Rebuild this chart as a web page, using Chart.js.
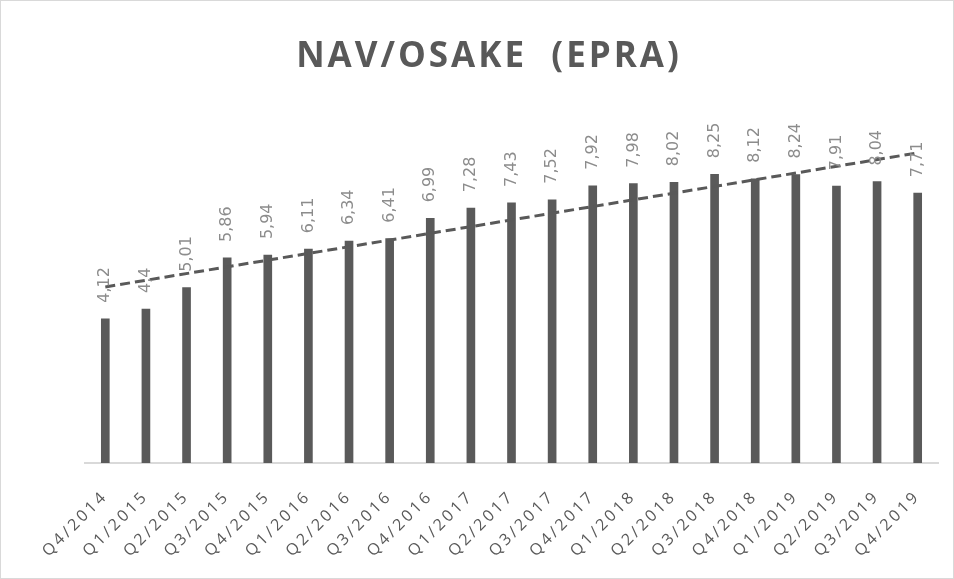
<!DOCTYPE html>
<html>
<head>
<meta charset="utf-8">
<script src="https://cdn.jsdelivr.net/npm/chart.js@4.4.1/dist/chart.umd.min.js"></script>
<style>
  html, body { margin: 0; padding: 0; background: #fff; }
  #wrap { width: 954px; height: 579px; }
</style>
</head>
<body>
<div id="wrap"><canvas id="navChart" width="954" height="579"></canvas></div>
<script>
const quarters = ['Q4/2014', 'Q1/2015', 'Q2/2015', 'Q3/2015', 'Q4/2015', 'Q1/2016', 'Q2/2016',
    'Q3/2016', 'Q4/2016', 'Q1/2017', 'Q2/2017', 'Q3/2017', 'Q4/2017', 'Q1/2018', 'Q2/2018',
    'Q3/2018', 'Q4/2018', 'Q1/2019', 'Q2/2019', 'Q3/2019', 'Q4/2019'];
const navPerShare = [4.12, 4.4, 5.01, 5.86, 5.94, 6.11, 6.34, 6.41, 6.99, 7.28, 7.43, 7.52,
    7.92, 7.98, 8.02, 8.25, 8.12, 8.24, 7.91, 8.04, 7.71];
const valueLabels = ['4,12', '4,4', '5,01', '5,86', '5,94', '6,11', '6,34', '6,41', '6,99', '7,28',
    '7,43', '7,52', '7,92', '7,98', '8,02', '8,25', '8,12', '8,24', '7,91', '8,04', '7,71'];
// trendline end values
const trendEnds = [5.03, 8.86];

const trendData = quarters.map((q, i) => {
    if (i === 0) return trendEnds[0];
    if (i === quarters.length - 1) return trendEnds[1];
    return null;
});

const textGrey = '#595959';

// the axis labels in the picture are spaced out; resizing the canvas resets
// the context, so set it again before layout and before drawing
const spacing = {
    id: 'spacing',
    beforeLayout(chart) {
        chart.ctx.letterSpacing = '3px';
    },
    beforeDraw(chart) {
        chart.ctx.letterSpacing = '3px';
    }
};

const barLabels = {
    id: 'barLabels',
    afterDatasetsDraw(chart) {
        const ctx = chart.ctx;
        const meta = chart.getDatasetMeta(0);
        ctx.save();
        ctx.letterSpacing = '0px';
        ctx.font = '16px "DejaVu Sans"';
        ctx.fillStyle = '#8c8c8c';
        ctx.textAlign = 'left';
        ctx.textBaseline = 'middle';
        meta.data.forEach((bar, i) => {
            ctx.save();
            ctx.translate(bar.x, bar.y - 16);
            ctx.rotate(-Math.PI / 2);
            ctx.fillText(valueLabels[i], 0, 0);
            ctx.restore();
        });
        ctx.restore();
    }
};

// background, outer frame and the title
const frame = {
    id: 'frame',
    beforeDraw(chart) {
        const ctx = chart.ctx;
        ctx.save();
        ctx.fillStyle = '#fff';
        ctx.fillRect(0, 0, chart.width, chart.height);
        ctx.strokeStyle = '#d9d9d9';
        ctx.lineWidth = 1;
        ctx.strokeRect(0.5, 0.5, chart.width - 1, chart.height - 1);

        ctx.font = 'bold 35px "Open Sans"';
        ctx.letterSpacing = '3px';
        ctx.fillStyle = textGrey;
        ctx.textAlign = 'center';
        ctx.textBaseline = 'middle';
        ctx.fillText('NAV/OSAKE  (EPRA)', 489, 57);
        ctx.restore();
    }
};

const context = document.getElementById('navChart').getContext('2d');
new Chart(context, {
    type: 'bar',
    data: {
        labels: quarters,
        datasets: [{
            type: 'bar',
            label: 'NAV/osake',
            data: navPerShare,
            backgroundColor: '#5a5a5a',
            barThickness: 8,
            order: 2
        }, {
            type: 'line',
            label: 'Trendi',
            data: trendData,
            spanGaps: true,
            borderColor: '#595959',
            borderWidth: 3,
            borderDash: [10, 5],
            pointRadius: 0,
            fill: false,
            order: 1
        }]
    },
    options: {
        responsive: false,
        animation: false,
        layout: {
            padding: { left: 0, right: 16, top: 113, bottom: 0 }
        },
        plugins: {
            legend: { display: false },
            tooltip: { enabled: false },
            title: { display: false }
        },
        scales: {
            x: {
                grid: { display: false },
                border: { display: true, color: '#d9d9d9', width: 2 },
                afterFit: scale => { scale.height = 116; },
                ticks: {
                    color: textGrey,
                    font: { family: 'Open Sans', size: 16 },
                    padding: 16,
                    minRotation: 45,
                    maxRotation: 45,
                    autoSkip: false
                }
            },
            y: {
                min: 0,
                max: 10,
                grid: { display: false },
                border: { display: false },
                ticks: { display: false },
                afterFit: scale => { scale.width = 85; }
            }
        }
    },
    plugins: [spacing, frame, barLabels]
});
</script>
</body>
</html>
